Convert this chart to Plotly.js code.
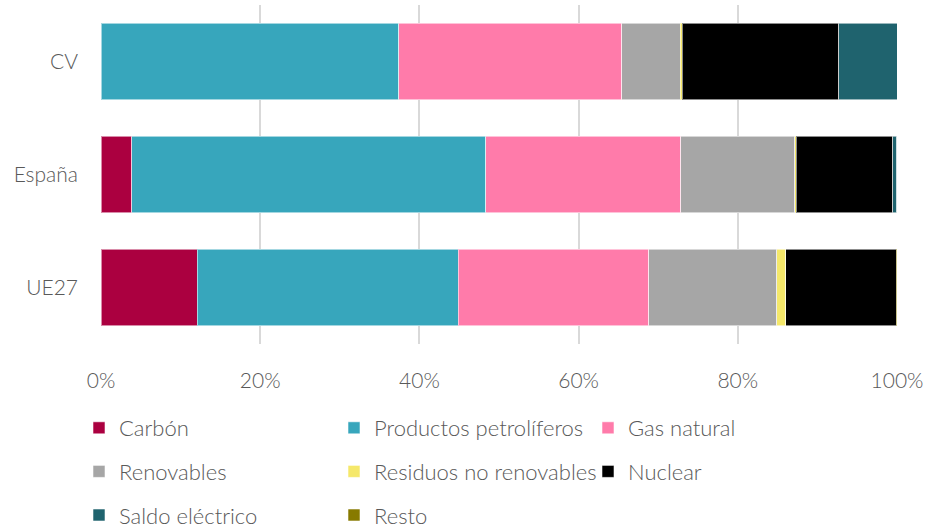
<!DOCTYPE html>
<html><head><meta charset="utf-8">
<script src="https://cdn.plot.ly/plotly-3.0.1.min.js"></script>
<style>html,body{margin:0;padding:0;background:#fff}#chart{width:925px;height:530px}</style>
</head><body><div id="chart"></div>
<script>
const categories = ["CV", "España", "UE27"];
const seriesNames = ["Carbón", "Productos petrolíferos", "Gas natural", "Renovables", "Residuos no renovables", "Nuclear", "Saldo eléctrico", "Resto"];
const carbon = [0, 3.85, 12.1];
const petroleo = [37.4, 44.5, 32.8];
const gas = [28.0, 24.5, 23.9];
const renovables = [7.4, 14.3, 16.1];
const residuos = [0.2, 0.2, 1.1];
const nuclear = [19.7, 12.1, 13.9];
const saldo = [7.3, 0.5, 0.0];
const resto = [0.0, 0.0, 0.1];
const tickVals = [0, 20, 40, 60, 80, 100];
const tickText = ["0%", "20%", "40%", "60%", "80%", "100%"];

const values = [carbon, petroleo, gas, renovables, residuos, nuclear, saldo, resto];
const colors = ["#AB0040", "#37A6BC", "#FF7BAA", "#A6A6A6", "#F5E86A", "#000000", "#1F636E", "#877A00"];
const legendOf = ["legend", "legend2", "legend3", "legend", "legend2", "legend3", "legend", "legend2"];
const FONT = "Lato, 'Open Sans', sans-serif";

const traces = seriesNames.map((n, i) => ({
  type: "bar", orientation: "h", name: n,
  x: values[i], y: categories,
  marker: {color: colors[i], line: {color: "rgba(255,255,255,0.55)", width: 1}},
  legend: legendOf[i], legendgroup: "g" + i,
  hoverinfo: "x+name"
}));

const legendBase = {
  orientation: "v", xref: "container", yref: "container", xanchor: "left", yanchor: "top",
  font: {family: FONT, size: 22, color: "#595959", weight: 300}, tracegroupgap: 12, itemwidth: 30,
  bgcolor: "rgba(0,0,0,0)", traceorder: "grouped"
};
const legendTop = 1 - 407/530;

const layout = {
  width: 925, height: 530,
  margin: {l: 101, r: 28, t: 5, b: 186, autoexpand: false},
  barmode: "stack", bargap: 0.32,
  paper_bgcolor: "#fff", plot_bgcolor: "#fff",
  font: {family: FONT, color: "#595959", size: 20, weight: 300},
  xaxis: {range: [0, 100], tickvals: tickVals, ticktext: tickText, automargin: false,
          showgrid: true, gridcolor: "#D9D9D9", gridwidth: 2, zeroline: false,
          showline: false, ticks: "", ticklen: 0, ticklabelstandoff: 22,
          tickfont: {family: FONT, size: 21, color: "#595959", weight: 300}, fixedrange: true},
  yaxis: {type: "category", categoryorder: "array", categoryarray: categories, autorange: "reversed", automargin: false,
          showgrid: false, zeroline: false, showline: false, ticks: "", ticklabelstandoff: 22,
          tickfont: {family: FONT, size: 21, color: "#595959", weight: 300}, fixedrange: true},
  showlegend: true,
  legend: Object.assign({}, legendBase, {x: 79/925, y: legendTop}),
  legend2: Object.assign({}, legendBase, {x: 334/925, y: legendTop}),
  legend3: Object.assign({}, legendBase, {x: 588/925, y: legendTop})
};

Plotly.newPlot("chart", traces, layout, {displayModeBar: false, staticPlot: true});
</script></body></html>
